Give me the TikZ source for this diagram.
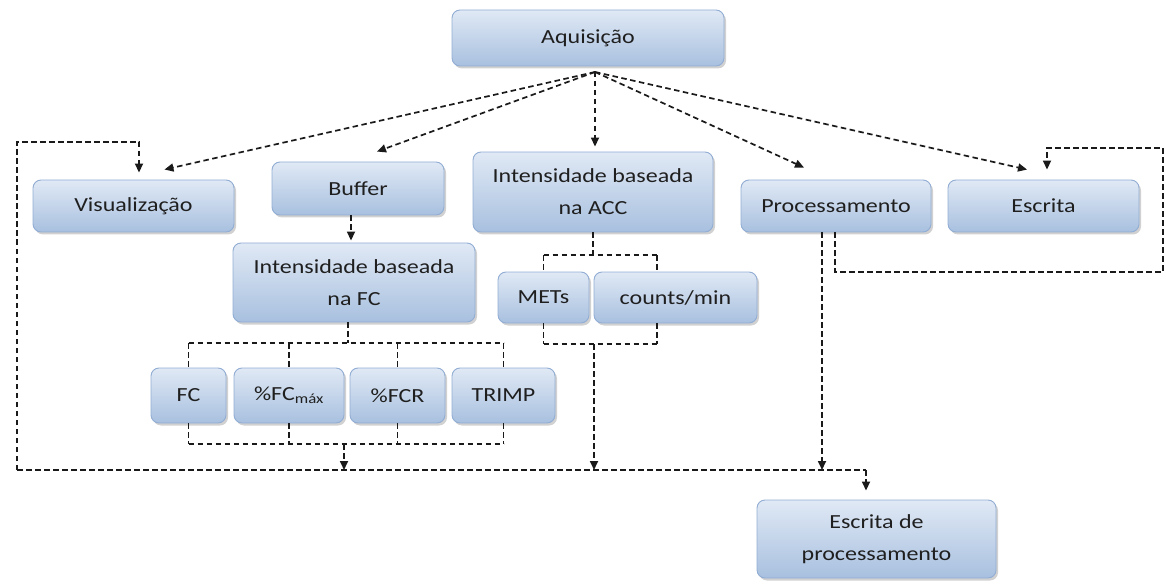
\documentclass[tikz,border=0pt]{standalone}
\usepackage{fontspec}
\setmainfont{Carlito}[FakeStretch=1.2]
\usetikzlibrary{arrows.meta,shadows,calc}
\definecolor{boxtop}{HTML}{E0E9F5}
\definecolor{boxbot}{HTML}{A8C0DF}
\definecolor{boxline}{HTML}{92ADD3}
\definecolor{txt}{HTML}{1F1F1F}
\definecolor{lin}{HTML}{1A1A1A}
\begin{document}
\begin{tikzpicture}[x=1pt,y=-1pt,
  box/.style={rounded corners=8pt, draw=boxline, line width=0.9pt,
    top color=boxtop, bottom color=boxbot,
    drop shadow={shadow xshift=2pt, shadow yshift=-2.5pt, opacity=0.3, fill=black!60},
    text=txt, font=\fontsize{20}{32}\selectfont, align=center, inner sep=0pt},
  conn/.style={draw=lin, line width=1.7pt, dash pattern=on 5.5pt off 3.5pt},
  arr/.style={conn, -{Triangle[length=9pt,width=8pt]}}]
\useasboundingbox (0,0) rectangle (1166,585);

\node[box, minimum width=272pt, minimum height=56pt] (acq) at (588,38) {Aquisição};
\node[box, minimum width=201pt, minimum height=52pt] (vis) at (133.5,206) {Visualização};
\node[box, minimum width=172pt, minimum height=53pt] (buf) at (358,188.5) {Buffer};
\node[box, minimum width=240pt, minimum height=80pt] (acc) at (593,192) {Intensidade baseada\\na ACC};
\node[box, minimum width=190pt, minimum height=52pt] (proc) at (836,206) {Processamento};
\node[box, minimum width=191pt, minimum height=52pt] (escr) at (1043.5,206) {Escrita};
\node[box, minimum width=242pt, minimum height=79pt] (fc) at (354,282.5) {Intensidade baseada\\na FC};
\node[box, minimum width=91pt, minimum height=51pt] (mets) at (543.5,297.5) {METs};
\node[box, minimum width=163pt, minimum height=51pt] (cpm) at (675.5,297.5) {counts/min};
\node[box, minimum width=75pt, minimum height=55pt] (nfc) at (188.5,395.5) {FC};
\node[box, minimum width=110pt, minimum height=55pt] (fcmax) at (289,395.5) {\%FC\textsubscript{máx}};
\node[box, minimum width=95pt, minimum height=55pt] (fcr) at (397.5,395.5) {\%FCR};
\node[box, minimum width=103pt, minimum height=55pt] (trimp) at (503.5,395.5) {TRIMP};
\node[box, minimum width=239pt, minimum height=78pt] (ep) at (876.5,539) {Escrita de\\processamento};

% fan from Aquisicao
\coordinate (o) at (595,72);
\draw[arr] (o) -- ($(vis.north)+(31,-10)$);
\draw[arr] (o) -- ($(buf.north)+(19,-10)$);
\draw[arr, shorten >=5pt] (o) -- (o |- acc.north);
\draw[arr] (o) -- ($(proc.north)+(-32,-12)$);
\draw[arr] (o) -- ($(escr.north)+(-16.5,-10)$);

% Buffer -> FC
\draw[arr, shorten >=2pt] ($(buf.south)+(-7,0)$) -- ($(fc.north)+(-3,0)$);

% bus
\coordinate (busL) at (17,470);
\coordinate (busR) at (866,470);
\draw[conn] (busL) -- (busR);
\draw[arr, shorten >=9pt] (busR) -- (busR |- ep.north);

% left loop to Visualizacao
\coordinate (vl) at (17,142);
\draw[arr] (busL) -- (vl) -| ($(vis.north)+(5.5,-7)$);

% FC bracket
\coordinate (fcb) at (348,343);
\coordinate (fcb2) at (344,444);
\draw[conn] ($(fc.south)+(-6,0)$) -- (fcb);
\draw[conn] (nfc.north |- fcb) -- (trimp.north |- fcb);
\foreach \n in {nfc,fcmax,fcr,trimp}{
  \draw[conn] (\n.north |- fcb) -- (\n.north);
  \draw[conn] (\n.south) -- (\n.south |- fcb2);
}
\draw[conn] (nfc.south |- fcb2) -- (trimp.south |- fcb2);
\draw[arr] (fcb2) -- (fcb2 |- busL);

% ACC bracket
\coordinate (ab1) at (593,255);
\coordinate (ab2) at (594,344);
\coordinate (cpmx) at ($(cpm.north)+(-18.5,0)$);
\draw[conn] (acc.south) -- (ab1);
\draw[conn] (mets.north |- ab1) -- (cpmx |- ab1);
\draw[conn] (mets.north |- ab1) -- (mets.north);
\draw[conn] (cpmx |- ab1) -- (cpmx);
\draw[conn] (mets.south) -- (mets.south |- ab2);
\draw[conn] (cpmx |- cpm.south) -- (cpmx |- ab2);
\draw[conn] (mets.south |- ab2) -- (cpmx |- ab2);
\draw[arr] (ab2) -- (ab2 |- busL);

% Processamento down and loop to Escrita
\coordinate (pd) at ($(proc.south)+(-14,0)$);
\draw[arr] (pd) -- (pd |- busL);
\coordinate (rl1) at (1163,272);
\coordinate (rl2) at (1163,148);
\draw[arr] ($(proc.south)+(-1,0)$) |- (rl1) -- (rl2) -| ($(escr.north)+(3.5,-10)$);
\end{tikzpicture}
\end{document}
